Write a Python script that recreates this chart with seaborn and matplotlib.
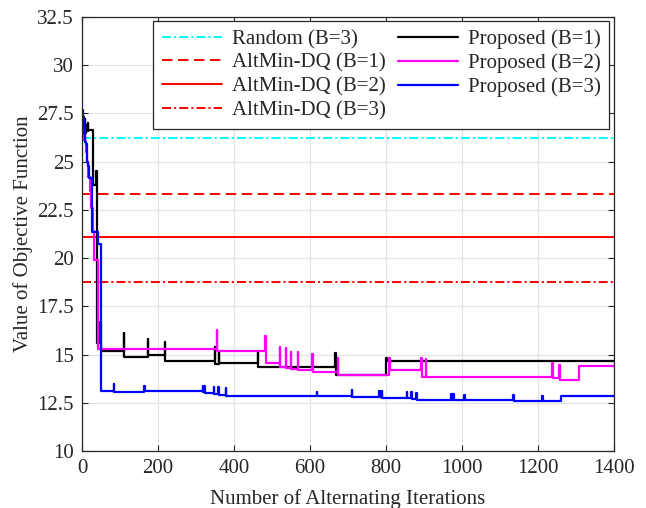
import matplotlib
matplotlib.use("Agg")
import matplotlib.pyplot as plt
import seaborn as sns
import pandas as pd
from matplotlib.ticker import FormatStrFormatter

# Baselines (constant objective values)
iter_range = [0, 1400]
random_b3 = 26.25
altmin_b1 = 23.35
altmin_b2 = 21.1
altmin_b3 = 18.75

# Proposed method, B=1: iterations where the objective changes and the new value
prop_b1_iter = [0, 2, 3, 5, 7, 9, 11, 13, 15, 17, 28, 37, 39, 48, 49,
                110, 111, 173, 174, 218, 219, 349, 350, 360, 361, 463, 464,
                667, 668, 801, 802, 1400]
prop_b1_val = [27.0, 26.6, 27.3, 26.8, 27.2, 26.5, 26.9, 26.6, 27.0, 26.65, 23.8, 24.5, 15.6, 16.7, 15.18,
               16.1, 14.86, 15.8, 14.96, 15.64, 14.67, 15.4, 14.5, 15.15, 14.55, 15.12, 14.36,
               15.1, 13.94, 14.84, 14.67, 14.67]

# Proposed method, B=2
prop_b2_iter = [0, 1, 3, 5, 7, 9, 11, 14, 17, 20, 24, 28, 31, 41,
                355, 356, 483, 484, 520, 521, 537, 538, 549, 550, 568, 569, 606, 607,
                673, 674, 809, 810, 893, 894, 906, 907, 1238, 1239, 1257, 1258, 1308, 1400]
prop_b2_val = [26.8, 26.1, 27.0, 26.2, 26.6, 26.0, 25.5, 25.0, 24.2, 23.5, 22.6, 21.4, 19.9, 15.31,
               16.28, 15.19, 15.96, 14.55, 15.41, 14.37, 15.33, 14.33, 15.15, 14.24, 15.12, 14.2, 15.03, 14.1,
               14.84, 13.94, 14.8, 14.2, 14.8, 13.84, 14.75, 13.82, 14.58, 13.78, 14.46, 13.7, 14.42, 14.42]

# Proposed method, B=3
prop_b3_iter = [0, 2, 4, 6, 8, 10, 12, 14, 16, 18, 27, 43, 49,
                83, 84, 164, 165, 318, 319, 322, 323, 347, 348, 359, 360, 379, 380,
                618, 619, 711, 712, 783, 784, 789, 790, 856, 857, 867, 868, 880, 881,
                972, 973, 978, 979, 1007, 1008, 1136, 1137, 1212, 1213, 1262, 1400]
prop_b3_val = [27.7, 27.2, 26.5, 26.8, 26.0, 25.9, 25.5, 25.0, 24.8, 24.15, 21.35, 20.75, 13.1,
               13.47, 13.08, 13.4, 13.1, 13.39, 13.05, 13.39, 13.03, 13.34, 12.96, 13.3, 12.89, 13.25, 12.88,
               13.05, 12.87, 13.16, 12.82, 13.11, 12.82, 13.11, 12.77, 13.05, 12.77, 13.05, 12.72, 13.02, 12.66,
               12.95, 12.66, 12.95, 12.66, 12.9, 12.66, 12.9, 12.61, 12.87, 12.61, 12.87, 12.87]

legend_labels = ["Random (B=3)", "AltMin-DQ (B=1)", "AltMin-DQ (B=2)", "AltMin-DQ (B=3)",
                 "Proposed (B=1)", "Proposed (B=2)", "Proposed (B=3)"]

sns.set_theme(style="ticks")
plt.rcParams["font.family"] = ["Liberation Serif", "DejaVu Serif"]
plt.rcParams["mathtext.fontset"] = "stix"
plt.rcParams["lines.scale_dashes"] = False

fig = plt.figure(figsize=(6.46, 5.08), dpi=100)
ax = fig.add_axes([0.127, 0.112, 0.823, 0.8545])

dashdot = (0, (6.5, 2.2, 1.5, 2.2))
dashed = (0, (7.5, 4.0))

base_specs = [
    (random_b3, "#00ffff", dashdot, legend_labels[0]),
    (altmin_b1, "#ff0000", dashed, legend_labels[1]),
    (altmin_b2, "#ff0000", "-", legend_labels[2]),
    (altmin_b3, "#ff0000", dashdot, legend_labels[3]),
]
for val, col, ls, lab in base_specs:
    df = pd.DataFrame({"iter": iter_range, "obj": [val, val]})
    sns.lineplot(data=df, x="iter", y="obj", ax=ax, color=col, linestyle=ls,
                 linewidth=1.4, label=lab, estimator=None)

prop_specs = [
    (prop_b1_iter, prop_b1_val, "#000000", legend_labels[4]),
    (prop_b2_iter, prop_b2_val, "#ff00ff", legend_labels[5]),
    (prop_b3_iter, prop_b3_val, "#0000ff", legend_labels[6]),
]
for it, vals, col, lab in prop_specs:
    df = pd.DataFrame({"iter": it, "obj": vals})
    sns.lineplot(data=df, x="iter", y="obj", ax=ax, color=col, linewidth=1.6,
                 drawstyle="steps-post", label=lab, estimator=None)

ax.set_xlim(0, 1400)
ax.set_ylim(10, 32.5)
ax.set_xticks(range(0, 1401, 200))
ax.set_yticks([10 + 2.5 * k for k in range(10)])
ax.yaxis.set_major_formatter(FormatStrFormatter("%g"))
ax.grid(True, color="#e3e3e3", linewidth=0.9)
ax.set_axisbelow(True)
for s in ax.spines.values():
    s.set_color("#262626")
    s.set_linewidth(0.9)
ax.tick_params(direction="in", top=True, right=True, length=4, width=0.8,
               labelsize=15, colors="#262626", pad=6)
for lbl in ax.get_xticklabels() + ax.get_yticklabels():
    lbl.set_color("#262626")

ax.set_xlabel("Number of Alternating Iterations", fontsize=15, color="#262626", labelpad=8)
ax.set_ylabel("Value of Objective Function", fontsize=15, color="#262626", labelpad=3)

leg = ax.legend(ncol=2, loc="upper right", bbox_to_anchor=(0.991, 0.991), fontsize=15,
                frameon=True, fancybox=False, edgecolor="#262626", framealpha=1,
                handlelength=2.9, handletextpad=0.45, columnspacing=0.6,
                labelspacing=0.2, borderpad=0.4, borderaxespad=0)
leg.get_frame().set_linewidth(0.9)

fig.savefig("out.png", dpi=100)
